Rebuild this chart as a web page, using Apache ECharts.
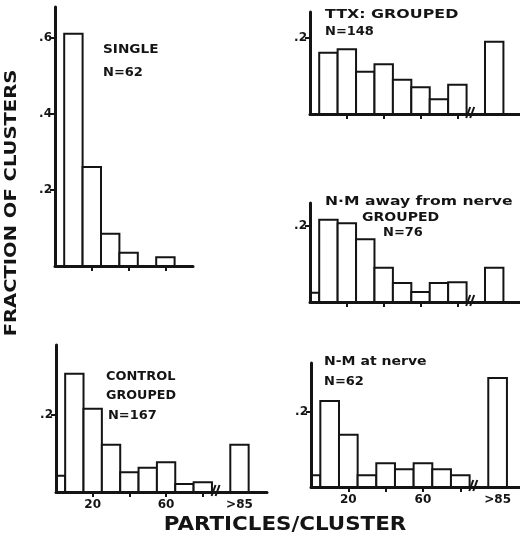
<!DOCTYPE html>
<html><head><meta charset="utf-8">
<script src="https://cdn.jsdelivr.net/npm/echarts@6/dist/echarts.min.js"></script>
<style>html,body{margin:0;padding:0;background:#fff}#c{width:520px;height:540px}</style>
</head><body><div id="c"></div>
<script>
// bin edges (particles per cluster); last bin is the ">85" bin
const binLo = [0, 5, 15, 25, 35, 45, 55, 65, 75, 95];
const binHi = [5, 15, 25, 35, 45, 55, 65, 75, 85, 105];
// fraction of clusters per bin
const single  = [null, 0.61, 0.26, 0.085, 0.035, 0, 0.023];
const control = [0.042, 0.306, 0.215, 0.122, 0.051, 0.063, 0.077, 0.021, 0.025, 0.122];
const ttx     = [null, 0.161, 0.170, 0.111, 0.131, 0.090, 0.070, 0.039, 0.077, 0.190];
const nmAway  = [0.024, 0.216, 0.207, 0.165, 0.090, 0.050, 0.026, 0.050, 0.052, 0.090];
const nmAt    = [0.031, 0.229, 0.139, 0.031, 0.063, 0.047, 0.063, 0.047, 0.031, 0.290];
// axis ticks / labels
const xTickVals = [20, 40, 60, 80];
const xLabelVals = [20, 60, 100];
const xLabelText = {20: '20', 60: '60', 100: '>85'};
const breakAt = 87.5;

const INK = '#141414';
const FONT = '"DejaVu Sans", sans-serif';

const panels = [
  {vals: single,  grid: {left: 55, top: 7,   width: 138, height: 259}, xMax: 75,  yMax: 0.68, yTicks: [0.2, 0.4, 0.6], labels: false, brk: false},
  {vals: control, grid: {left: 56, top: 345, width: 211, height: 147}, xMax: 115, yMax: 0.38, yTicks: [0.2], labels: true, brk: true},
  {vals: ttx,     grid: {left: 310, top: 12, width: 210, height: 102}, xMax: 114, yMax: 0.268, yTicks: [0.2], labels: false, brk: true},
  {vals: nmAway,  grid: {left: 310, top: 203, width: 210, height: 99}, xMax: 114, yMax: 0.26, yTicks: [0.2], labels: false, brk: true},
  {vals: nmAt,    grid: {left: 311, top: 363, width: 209, height: 124}, xMax: 112, yMax: 0.33, yTicks: [0.2], labels: true, brk: true}
];

function renderBar(params, api) {
  const lo = api.value(0), hi = api.value(1), v = api.value(2);
  const p0 = api.coord([lo, v]);
  const p1 = api.coord([hi, 0]);
  return {
    type: 'rect',
    shape: {x: p0[0], y: p0[1], width: p1[0] - p0[0], height: p1[1] - p0[1]},
    style: {fill: '#fff', stroke: INK, lineWidth: 2}
  };
}
function renderBreak(params, api) {
  const c = api.coord([api.value(0), api.value(1)]);
  const x = c[0], y = c[1];
  return {
    type: 'group',
    children: [
      {type: 'line', shape: {x1: x - 5, y1: y + 4, x2: x - 1, y2: y - 7}, style: {stroke: INK, lineWidth: 2}},
      {type: 'line', shape: {x1: x - 1, y1: y + 4, x2: x + 3, y2: y - 7}, style: {stroke: INK, lineWidth: 2}}
    ]
  };
}

const grid = [], xAxis = [], yAxis = [], series = [];
panels.forEach((p, i) => {
  grid.push(Object.assign({containLabel: false}, p.grid));
  xAxis.push({
    type: 'value', gridIndex: i, min: 0, max: p.xMax, z: 5,
    splitLine: {show: false},
    axisLine: {show: true, onZero: false, lineStyle: {color: INK, width: 3}},
    axisTick: {show: true, length: 5, customValues: xTickVals, lineStyle: {color: INK, width: 2}},
    axisLabel: {show: p.labels, customValues: xLabelVals, margin: 7, color: INK,
      fontFamily: FONT, fontSize: 12, fontWeight: 'bold',
      formatter: v => xLabelText[v] || ''}
  });
  yAxis.push({
    type: 'value', gridIndex: i, min: 0, max: p.yMax, z: 5,
    splitLine: {show: false},
    axisLine: {show: true, onZero: false, lineStyle: {color: INK, width: 3}},
    axisTick: {show: true, length: 5, customValues: p.yTicks, lineStyle: {color: INK, width: 2}},
    axisLabel: {show: true, customValues: p.yTicks, margin: 3, color: INK,
      fontFamily: FONT, fontSize: 12, fontWeight: 'bold',
      formatter: v => '.' + Math.round(v * 10)}
  });
  const data = [];
  p.vals.forEach((v, k) => { if (v) data.push([binLo[k], binHi[k], v]); });
  series.push({
    type: 'custom', xAxisIndex: i, yAxisIndex: i, z: 2,
    renderItem: renderBar, encode: {x: [0, 1], y: 2}, data: data, silent: true
  });
  if (p.brk) {
    series.push({
      type: 'custom', xAxisIndex: i, yAxisIndex: i, z: 8,
      renderItem: renderBreak, encode: {x: 0, y: 1}, data: [[breakAt, 0]], silent: true
    });
  }
});

function txt(text, x, y, size, weight, sx, opts) {
  return Object.assign({
    type: 'text', x: x, y: y, scaleX: sx || 1, z: 10,
    style: {text: text, font: weight + ' ' + size + 'px ' + FONT, fill: INK,
      textVerticalAlign: 'middle', textAlign: 'left'}
  }, opts || {});
}

const graphic = [
  txt('SINGLE', 103, 50, 13, 'bold', 1.05),
  txt('N=62', 103, 73, 13, 'bold', 1.0),
  txt('TTX: GROUPED', 325, 15, 13, 'bold', 1.22),
  txt('N=148', 325, 31.5, 13, 'bold', 1.0),
  txt('N·M away from nerve', 325, 202, 12, 'bold', 1.3),
  txt('GROUPED', 362, 218, 13, 'bold', 1.08),
  txt('N=76', 383, 233, 13, 'bold', 1.0),
  txt('CONTROL', 106, 377, 12, 'bold', 1.08),
  txt('GROUPED', 106, 396, 12, 'bold', 1.06),
  txt('N=167', 108, 416, 12, 'bold', 1.08),
  txt('N-M at nerve', 324, 362, 12, 'bold', 1.17),
  txt('N=62', 324, 382, 13, 'bold', 1.0),
  {type: 'text', x: 12, y: 203, rotation: Math.PI / 2, scaleX: 1.22, z: 10,
    style: {text: 'FRACTION OF CLUSTERS', font: 'bold 16px ' + FONT, fill: INK,
      textAlign: 'center', textVerticalAlign: 'middle'}},
  {type: 'text', x: 285, y: 525, scaleX: 1.07, z: 10,
    style: {text: 'PARTICLES/CLUSTER', font: 'bold 20px ' + FONT, fill: INK,
      textAlign: 'center', textVerticalAlign: 'middle'}}
];

const chart = echarts.init(document.getElementById('c'), null, {renderer: 'canvas'});
chart.setOption({
  animation: false,
  backgroundColor: '#fff',
  grid: grid, xAxis: xAxis, yAxis: yAxis, series: series, graphic: graphic
});
</script></body></html>
